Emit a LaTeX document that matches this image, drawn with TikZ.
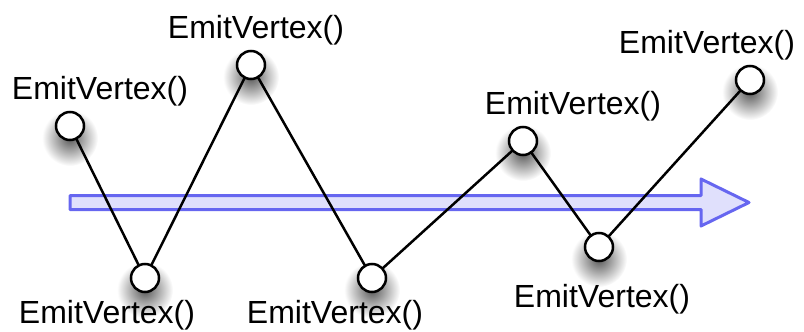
\documentclass[tikz,border=0pt]{standalone}
\usepackage{fontspec}
\setmainfont{Liberation Sans}
\usetikzlibrary{positioning}
\usetikzlibrary{backgrounds}
\usepackage{xcolor}
\definecolor{flowblue} {RGB} {102,102,240}
\definecolor{flowfill} {RGB} {224,224,252}
\tikzstyle{V} = [circle,fill=white,draw=black,line width=2.5pt,minimum size=28pt,inner sep=0pt,outer sep=0pt]
\tikzstyle{L} = [inner sep=0pt,outer sep=0pt,font=\fontsize{32}{38}\selectfont]
\tikzstyle{S} = [inner color=black!65,outer color=white]
\tikzstyle{E} = [line width=2.5pt]
\tikzstyle{F} = [draw=flowblue,fill=flowfill,line width=3pt,line join=round]

\begin{document}
\begin{tikzpicture}[x=1pt,y=-1pt]
  \useasboundingbox (0,0) rectangle (804,332);

  \node [V] (n1) at (70,126) {};
  \node [V] (n2) at (145,278) {};
  \node [V] (n3) at (251,65) {};
  \node [V] (n4) at (372,278) {};
  \node [V] (n5) at (523,141) {};
  \node [V] (n6) at (599,247) {};
  \node [V] (n7) at (750,80) {};

  \node [L,above=6pt of n1,xshift=30pt](c1){EmitVertex()};
  \node [L,below=8pt of n2,xshift=-38pt](c2){EmitVertex()};
  \node [L,above=6pt of n3,xshift=5pt](c3){EmitVertex()};
  \node [L,below=8pt of n4,xshift=-37pt](c4){EmitVertex()};
  \node [L,above=6pt of n5,xshift=50pt](c5){EmitVertex()};
  \node [L,below=23pt of n6,xshift=3pt](c6){EmitVertex()};
  \node [L,above=6pt of n7,xshift=-43pt](c7){EmitVertex()};

  \begin{scope}[on background layer]
    \foreach \i in {1,...,7}
      \shade [S] ([yshift=-12pt]n\i.center) circle (28pt);
    \draw [F] (70,195.5) -- (701,195.5) -- (701,179) -- (749,202.5)
      -- (701,226) -- (701,209.5) -- (70,209.5) -- cycle;
    \draw [E] (n1) -- (n2) -- (n3) -- (n4) -- (n5) -- (n6) -- (n7);
  \end{scope}
\end{tikzpicture}
\end{document}
